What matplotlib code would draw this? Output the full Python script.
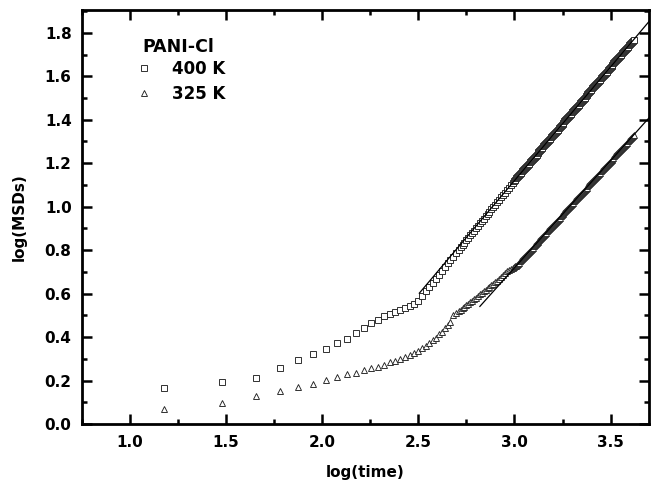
import matplotlib
matplotlib.use("Agg")
import matplotlib.pyplot as plt
from matplotlib.ticker import MultipleLocator
from matplotlib.lines import Line2D
import numpy as np

plt.rcParams['font.family'] = ['DejaVu Sans']
plt.rcParams['font.weight'] = 'bold'

# ---- data: log(time) and log(MSDs) ----
log_time_sparse = [1.176, 1.477, 1.653, 1.778, 1.875, 1.954, 2.021, 2.079, 2.130, 2.176,
                   2.217, 2.255, 2.290, 2.322, 2.352, 2.380, 2.407, 2.431, 2.455, 2.477,
                   2.498, 2.519, 2.538, 2.556, 2.574, 2.591, 2.607, 2.623, 2.638, 2.653,
                   2.667, 2.681, 2.695]
log_time_mid = [2.71, 2.72, 2.73, 2.74, 2.75, 2.76, 2.77, 2.78, 2.79, 2.80,
                2.81, 2.82, 2.83, 2.84, 2.85, 2.86, 2.87, 2.88, 2.89, 2.90,
                2.91, 2.92, 2.93, 2.94, 2.95, 2.96, 2.97, 2.98, 2.99]
log_time_dense = [3.000, 3.005, 3.010, 3.015, 3.020, 3.025, 3.030, 3.035, 3.040, 3.045,
                  3.050, 3.055, 3.060, 3.065, 3.070, 3.075, 3.080, 3.085, 3.090, 3.095,
                  3.100, 3.105, 3.110, 3.115, 3.120, 3.125, 3.130, 3.135, 3.140, 3.145,
                  3.150, 3.155, 3.160, 3.165, 3.170, 3.175, 3.180, 3.185, 3.190, 3.195,
                  3.200, 3.205, 3.210, 3.215, 3.220, 3.225, 3.230, 3.235, 3.240, 3.245,
                  3.250, 3.255, 3.260, 3.265, 3.270, 3.275, 3.280, 3.285, 3.290, 3.295,
                  3.300, 3.305, 3.310, 3.315, 3.320, 3.325, 3.330, 3.335, 3.340, 3.345,
                  3.350, 3.355, 3.360, 3.365, 3.370, 3.375, 3.380, 3.385, 3.390, 3.395,
                  3.400, 3.405, 3.410, 3.415, 3.420, 3.425, 3.430, 3.435, 3.440, 3.445,
                  3.450, 3.455, 3.460, 3.465, 3.470, 3.475, 3.480, 3.485, 3.490, 3.495,
                  3.500, 3.505, 3.510, 3.515, 3.520, 3.525, 3.530, 3.535, 3.540, 3.545,
                  3.550, 3.555, 3.560, 3.565, 3.570, 3.575, 3.580, 3.585, 3.590, 3.595,
                  3.600, 3.605, 3.610, 3.615, 3.620]

msd_400_sparse = [0.167, 0.195, 0.213, 0.257, 0.294, 0.323, 0.347, 0.371, 0.390, 0.417,
                  0.441, 0.464, 0.480, 0.497, 0.508, 0.517, 0.525, 0.533, 0.542, 0.553,
                  0.566, 0.590, 0.611, 0.630, 0.650, 0.669, 0.687, 0.704, 0.721, 0.739,
                  0.754, 0.770, 0.786]
msd_400_mid = [0.802, 0.813, 0.824, 0.835, 0.846, 0.857, 0.868, 0.879, 0.890, 0.901,
               0.912, 0.923, 0.934, 0.944, 0.955, 0.966, 0.977, 0.988, 0.999, 1.010,
               1.021, 1.032, 1.043, 1.054, 1.065, 1.076, 1.087, 1.098, 1.109]
msd_400_dense = [1.120, 1.125, 1.130, 1.136, 1.141, 1.146, 1.151, 1.156, 1.162, 1.167,
                 1.172, 1.177, 1.183, 1.188, 1.193, 1.198, 1.204, 1.209, 1.214, 1.219,
                 1.224, 1.230, 1.235, 1.240, 1.245, 1.251, 1.256, 1.261, 1.266, 1.272,
                 1.277, 1.282, 1.287, 1.292, 1.298, 1.303, 1.308, 1.313, 1.319, 1.324,
                 1.329, 1.334, 1.340, 1.345, 1.350, 1.355, 1.360, 1.366, 1.371, 1.376,
                 1.381, 1.387, 1.392, 1.397, 1.402, 1.408, 1.413, 1.418, 1.423, 1.428,
                 1.434, 1.439, 1.444, 1.449, 1.455, 1.460, 1.465, 1.470, 1.476, 1.481,
                 1.486, 1.491, 1.496, 1.502, 1.507, 1.512, 1.517, 1.523, 1.528, 1.533,
                 1.538, 1.544, 1.549, 1.554, 1.559, 1.564, 1.570, 1.575, 1.580, 1.585,
                 1.591, 1.596, 1.601, 1.606, 1.612, 1.617, 1.622, 1.627, 1.633, 1.638,
                 1.643, 1.648, 1.653, 1.659, 1.664, 1.669, 1.674, 1.680, 1.685, 1.690,
                 1.695, 1.700, 1.706, 1.711, 1.716, 1.721, 1.727, 1.732, 1.737, 1.742,
                 1.748, 1.753, 1.758, 1.763, 1.769]

msd_325_sparse = [0.068, 0.098, 0.129, 0.151, 0.171, 0.186, 0.204, 0.217, 0.229, 0.236,
                  0.250, 0.258, 0.263, 0.273, 0.284, 0.292, 0.300, 0.308, 0.318, 0.326,
                  0.337, 0.348, 0.358, 0.372, 0.385, 0.398, 0.412, 0.425, 0.440, 0.455,
                  0.470, 0.503, 0.510]
msd_325_mid = [0.519, 0.526, 0.533, 0.540, 0.547, 0.554, 0.561, 0.568, 0.575, 0.582,
               0.589, 0.596, 0.603, 0.610, 0.617, 0.624, 0.631, 0.638, 0.645, 0.652,
               0.660, 0.668, 0.677, 0.686, 0.695, 0.703, 0.710, 0.715, 0.718]
msd_325_dense = [0.722, 0.725, 0.728, 0.733, 0.738, 0.743, 0.748, 0.753, 0.758, 0.763,
                 0.768, 0.773, 0.778, 0.783, 0.788, 0.792, 0.797, 0.802, 0.807, 0.812,
                 0.817, 0.822, 0.827, 0.832, 0.837, 0.842, 0.847, 0.852, 0.857, 0.861,
                 0.866, 0.871, 0.876, 0.881, 0.886, 0.891, 0.896, 0.901, 0.906, 0.911,
                 0.916, 0.921, 0.926, 0.930, 0.935, 0.940, 0.945, 0.950, 0.955, 0.960,
                 0.965, 0.970, 0.975, 0.980, 0.985, 0.990, 0.995, 0.999, 1.004, 1.009,
                 1.014, 1.019, 1.024, 1.029, 1.034, 1.039, 1.044, 1.049, 1.054, 1.059,
                 1.064, 1.068, 1.073, 1.078, 1.083, 1.088, 1.093, 1.098, 1.103, 1.108,
                 1.113, 1.118, 1.123, 1.128, 1.133, 1.137, 1.142, 1.147, 1.152, 1.157,
                 1.162, 1.167, 1.172, 1.177, 1.182, 1.187, 1.192, 1.197, 1.202, 1.206,
                 1.211, 1.216, 1.221, 1.226, 1.231, 1.236, 1.241, 1.246, 1.251, 1.256,
                 1.261, 1.266, 1.271, 1.275, 1.280, 1.285, 1.290, 1.295, 1.300, 1.305,
                 1.310, 1.315, 1.320, 1.325, 1.330]

# linear fits: (x_start, x_end, slope, y at x_start)
fit_400 = (2.505, 3.75, 1.046, 0.602)
fit_325 = (2.82, 3.75, 0.986, 0.541)

series_labels = ['400 K', '325 K']
legend_title = 'PANI-Cl'

x_all = log_time_sparse + log_time_mid + log_time_dense
y400 = msd_400_sparse + msd_400_mid + msd_400_dense
y325 = msd_325_sparse + msd_325_mid + msd_325_dense

fig = plt.figure(figsize=(6.56, 4.90), dpi=100)
ax = fig.add_axes([82/656, 1-424/490, (649-82)/656, (424-10)/490])

mk = dict(linestyle='none', markerfacecolor='white', markeredgecolor='#222222',
          markeredgewidth=0.65)
l1, = ax.plot(x_all, y400, marker='s', markersize=4.2, **mk)
l2, = ax.plot(x_all, y325, marker='^', markersize=5.0, **mk)
l1.set_snap(False)
l2.set_snap(False)

for (x0, x1, m, y0) in (fit_400, fit_325):
    xs = np.array([x0, x1])
    ax.plot(xs, y0 + m * (xs - x0), color='black', linewidth=0.9)

ax.set_xlim(0.75, 3.70)
ax.set_ylim(0.0, 1.905)
ax.xaxis.set_major_locator(MultipleLocator(0.5))
ax.xaxis.set_minor_locator(MultipleLocator(0.25))
ax.yaxis.set_major_locator(MultipleLocator(0.2))
ax.yaxis.set_minor_locator(MultipleLocator(0.1))
ax.xaxis.set_major_formatter(plt.FormatStrFormatter('%.1f'))
ax.yaxis.set_major_formatter(plt.FormatStrFormatter('%.1f'))

for s in ax.spines.values():
    s.set_linewidth(2.0)
ax.tick_params(which='both', direction='in', top=True, right=True, width=1.8)
ax.tick_params(which='major', length=7, labelsize=11)
ax.tick_params(which='minor', length=3.5)
ax.tick_params(axis='x', which='major', pad=8)
ax.tick_params(axis='y', which='major', pad=7.5)
for lab in ax.get_xticklabels() + ax.get_yticklabels():
    lab.set_fontweight('bold')

ax.set_xlabel('log(time)', fontsize=11, fontweight='bold', labelpad=11)
ax.set_ylabel('log(MSDs)', fontsize=11, fontweight='bold', labelpad=13)

# legend
ax.text((142.7 - 82) / 567, (424 - 47) / 414, legend_title, transform=ax.transAxes,
        ha='left', va='center', fontsize=12.5, fontweight='bold')
handles = [Line2D([], [], marker='s', markersize=4.2, **mk),
           Line2D([], [], marker='^', markersize=5.0, **mk)]
leg = ax.legend(handles, series_labels, loc='upper left',
                bbox_to_anchor=((135.8 - 82) / 567, (424 - 60) / 414),
                frameon=False, fontsize=12, handletextpad=1.15, handlelength=1.0,
                borderpad=0.0, borderaxespad=0.0, labelspacing=0.42)
for t in leg.get_texts():
    t.set_fontweight('bold')

fig.savefig('out.png', dpi=100)
